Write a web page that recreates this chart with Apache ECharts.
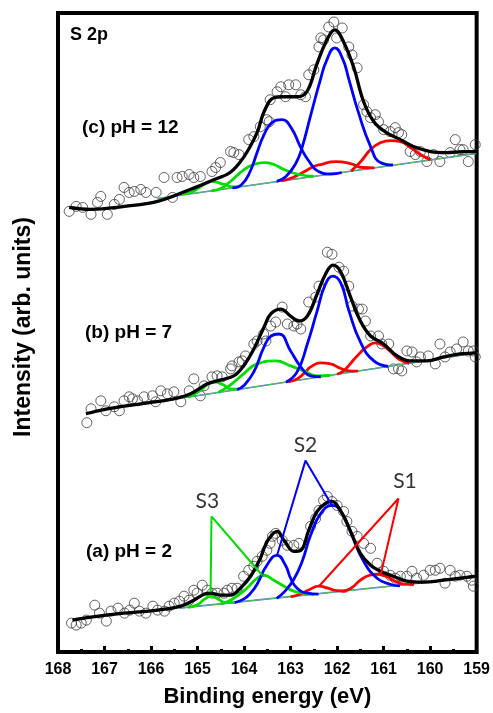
<!DOCTYPE html>
<html><head><meta charset="utf-8">
<script src="https://cdn.jsdelivr.net/npm/echarts@6/dist/echarts.min.js"></script>
<style>html,body{margin:0;padding:0;background:#fff}#chart{width:493px;height:713px}</style>
</head><body><div id="chart"></div>
<script>
// ---------- axis ----------
const xMin = 159, xMax = 168, xStep = 1;
const yMin = 0, yMax = 641;

// ---------- (c) pH = 12 ----------
const dataC = [[167.76,442],[167.61,447],[167.47,446],[167.29,439],[167.15,451],[167.08,457],[166.94,439],[166.79,449],[166.68,454],[166.58,466],[166.47,461],[166.36,462],[166.22,464],[166.11,461],[165.89,461],[165.72,476],[165.54,456],[165.44,476],[165.33,477],[165.18,479],[165.08,476],[164.94,477],[164.69,482],[164.61,486],[164.51,491],[164.29,502],[164.22,501],[164.11,499],[163.90,514],[163.79,517],[163.65,527],[163.51,534],[163.46,532],[163.44,554],[163.29,562],[163.21,567],[163.11,557],[163.04,569],[162.89,569],[162.78,559],[162.68,557],[162.61,579],[162.50,584],[162.39,607],[162.35,616],[162.29,614],[162.18,627],[162.07,632],[162.01,616],[161.89,626],[161.75,607],[161.68,599],[161.57,586],[161.43,549],[161.36,542],[161.28,536],[161.18,539],[161.11,532],[161.00,524],[160.86,522],[160.75,526],[160.68,521],[160.61,519],[160.43,502],[160.32,499],[160.21,502],[160.07,492],[159.93,499],[159.79,492],[159.57,501],[159.46,514],[159.36,504],[159.29,504],[159.18,492],[159.03,509]];
const fitC = [[167.76,446],[167.30,444],[166.57,447],[165.86,452],[165.16,464],[164.64,474],[164.30,481],[164.00,497],[163.72,521],[163.57,542],[163.36,556],[163.14,557],[162.86,557],[162.65,562],[162.44,589],[162.24,612],[162.05,624],[161.86,612],[161.64,586],[161.43,552],[161.21,532],[160.94,521],[160.64,514],[160.36,507],[159.99,502],[159.65,501],[159.29,502],[159.01,502]];
const bgC = [[165.86,455],[159.01,500]];
const s2aC = [[163.3,472],[163.1,477],[162.89,490],[162.76,505],[162.57,538],[162.36,574],[162.22,594],[162.05,606],[161.88,595],[161.75,575],[161.54,541],[161.28,507],[161.07,491],[160.8,488.5]];
const s2bC = [[164.25,465.6],[164.05,469],[163.87,482],[163.72,501],[163.57,519],[163.4,531],[163.19,534],[162.99,526],[162.78,506],[162.6,492],[162.4,482],[162.14,479.5],[161.9,481]];
const s3aC = [[164.7,462.7],[164.5,465],[164.32,471],[164.0,484],[163.79,489],[163.57,491],[163.36,489],[163.14,484],[162.82,479],[162.5,477.1]];
const s3bC = [[165.29,459.7],[165.1,462],[164.96,466],[164.71,472],[164.43,469],[164.25,466.5],[164.1,466.6]];
const s1aC = [[161.7,482.4],[161.49,492],[161.28,504],[161.06,511],[160.85,513],[160.64,512],[160.42,506],[160.21,499],[159.99,493.6]];
const s1bC = [[163.2,472.5],[162.95,476],[162.7,482],[162.5,487],[162.35,489],[162.03,492],[161.71,490],[161.45,486],[161.2,485.6]];

// ---------- (b) pH = 7 ----------
const dataB = [[167.38,230],[167.29,244],[167.08,252],[166.97,242],[166.79,246],[166.68,242],[166.58,252],[166.47,256],[166.40,254],[166.29,252],[166.15,256],[165.97,257],[165.90,251],[165.79,262],[165.65,259],[165.51,261],[165.36,251],[165.18,262],[165.08,274],[164.94,257],[164.86,267],[164.69,276],[164.58,277],[164.47,276],[164.29,284],[164.26,287],[164.11,291],[164.04,292],[163.97,297],[163.79,309],[163.72,312],[163.58,319],[163.53,312],[163.43,327],[163.32,331],[163.18,346],[163.07,329],[162.93,327],[162.86,329],[162.78,324],[162.61,351],[162.46,356],[162.39,367],[162.21,401],[162.11,399],[161.96,386],[161.86,382],[161.75,367],[161.68,347],[161.54,344],[161.46,344],[161.39,332],[161.28,317],[161.11,317],[161.04,309],[160.89,309],[160.79,284],[160.68,284],[160.61,282],[160.50,302],[160.39,301],[160.29,291],[160.21,296],[160.04,297],[159.89,289],[159.79,309],[159.68,296],[159.57,301],[159.43,304],[159.29,311],[159.18,302],[159.07,302],[159.03,296]];
const fitB = [[167.40,239],[166.94,244],[166.22,249],[165.51,254],[165.15,259],[164.79,269],[164.58,272],[164.22,277],[164.01,287],[163.79,304],[163.57,326],[163.43,339],[163.21,344],[163.00,337],[162.82,332],[162.64,337],[162.43,359],[162.25,379],[162.09,388],[161.93,382],[161.71,356],[161.50,332],[161.28,317],[161.00,309],[160.71,297],[160.43,292],[160.07,292],[159.71,296],[159.36,299],[159.00,300]];
const bgB = [[165.65,252.5],[159.01,300]];
const s2aB = [[163.1,270.7],[162.86,281],[162.64,309],[162.43,342],[162.25,369],[162.09,377],[161.92,370],[161.75,343],[161.5,311],[161.21,292],[160.9,286.5]];
const s2bB = [[164.15,263.2],[164.01,267],[163.79,281],[163.58,305],[163.42,317],[163.25,319],[163.0,302],[162.78,286],[162.57,277],[162.35,276.1]];
const s3aB = [[164.55,260.4],[164.29,268],[164.01,279],[163.72,289],[163.32,292],[163.0,287],[162.71,282],[162.43,277],[162.15,277.5]];
const s3bB = [[165.2,255.7],[164.95,262],[164.8,268],[164.65,271],[164.45,268],[164.3,264],[164.1,263.6]];
const s1aB = [[162.0,278.6],[161.86,282],[161.7,290],[161.57,297],[161.36,306],[161.18,310],[161.0,307],[160.82,300],[160.65,293],[160.45,289.6]];
const s1bB = [[163.05,271.1],[162.86,274],[162.7,280],[162.57,286],[162.36,290],[162.14,289],[161.95,285],[161.75,282],[161.55,281.7]];

// ---------- (a) pH = 2 ----------
const dataA = [[167.71,29],[167.61,27],[167.50,29],[167.39,32],[167.21,47],[167.11,39],[166.96,31],[166.86,41],[166.71,44],[166.57,39],[166.46,42],[166.36,49],[166.25,41],[166.11,39],[165.96,46],[165.86,42],[165.71,41],[165.61,46],[165.50,49],[165.39,51],[165.29,56],[165.18,52],[165.08,62],[165.01,59],[164.90,67],[164.79,62],[164.69,59],[164.58,59],[164.43,59],[164.36,62],[164.26,64],[164.15,64],[164.01,76],[163.90,82],[163.79,86],[163.72,91],[163.61,96],[163.51,102],[163.44,109],[163.39,116],[163.32,119],[163.18,112],[163.07,107],[162.93,107],[162.82,109],[162.57,126],[162.46,134],[162.39,142],[162.29,152],[162.21,156],[162.11,151],[162.00,147],[161.86,141],[161.79,131],[161.68,121],[161.57,116],[161.43,109],[161.28,104],[161.14,89],[161.00,81],[160.86,77],[160.75,74],[160.64,76],[160.50,76],[160.39,81],[160.29,74],[160.14,77],[160.00,82],[159.89,82],[159.79,84],[159.68,69],[159.57,82],[159.46,76],[159.36,77],[159.21,76],[159.11,72],[159.07,66]];
const fitA = [[167.69,32],[167.29,35],[166.58,39],[165.86,42],[165.36,46],[165.08,52],[164.86,58],[164.72,59],[164.51,57],[164.29,57],[164.08,64],[163.86,76],[163.65,94],[163.57,104],[163.46,114],[163.29,121],[163.14,112],[162.93,101],[162.78,102],[162.61,122],[162.43,141],[162.25,149],[162.11,151],[161.93,142],[161.71,121],[161.50,99],[161.28,87],[161.07,81],[160.79,76],[160.50,71],[160.14,70],[159.71,72],[159.00,76]];
const bgA = [[165.39,44],[159.01,75]];
const s2aA = [[163.3,53.8],[163.14,60],[162.93,73],[162.75,91],[162.57,117],[162.35,139],[162.11,147],[161.9,140],[161.68,117],[161.43,91],[161.14,74],[160.86,68],[160.65,66.3]];
const s2bA = [[164.2,49.6],[164.01,53],[163.86,59],[163.72,68],[163.51,87],[163.29,97],[163.11,87],[163.0,74],[162.86,64],[162.64,59],[162.4,58]];
const s3aA = [[164.5,48.2],[164.29,52],[164.01,61],[163.72,74],[163.57,77],[163.36,72],[163.14,66],[162.93,61],[162.71,59],[162.5,57.6]];
const s3bA = [[165.2,44.9],[165.0,47.5],[164.85,53],[164.71,56],[164.55,53],[164.4,49.5],[164.2,49.6]];
const s1aA = [[161.9,60.8],[161.7,64],[161.5,72],[161.3,77],[161.14,78],[160.95,76],[160.75,71],[160.55,68],[160.35,67.7]];
const s1bA = [[163.0,55.2],[162.8,58],[162.6,62.5],[162.39,66],[162.2,64],[162.0,61.5],[161.8,61]];

// ---------- annotations ----------
const s1Pointer = [[162.39,66],[160.68,154],[161.06,78]];
const s2Pointer = [[163.29,97],[162.68,192],[162.11,147]];
const s3Pointer = [[164.72,60],[164.70,136],[163.61,77]];
const peakLabels = [{name:'S1', value:[160.54,171]},{name:'S2', value:[162.68,207]},{name:'S3', value:[164.79,151]}];

const panelLabels = ['(c) pH = 12', '(b) pH = 7', '(a) pH = 2'];
const coreLevel = 'S 2p';

// ---------- build ----------
const BLUE = '#0000ff', RED = '#ff0000', GREEN = '#00dd00';
function line(data, color, width, z, smooth) {
  return {type:'line', data: data, symbol:'none', smooth: smooth, lineStyle:{color:color, width:width}, itemStyle:{color:color}, z:z, silent:true, animation:false};
}
function scatter(data) {
  return {type:'scatter', data: data, symbol:'circle', symbolSize:10, itemStyle:{color:'rgba(255,255,255,0)', borderColor:'#3c3c3c', borderWidth:1}, z:2, silent:true, animation:false};
}
const spectra = [
  {d:dataC, fit:fitC, bg:bgC, s1:[s1aC,s1bC], s2:[s2aC,s2bC], s3:[s3aC,s3bC]},
  {d:dataB, fit:fitB, bg:bgB, s1:[s1aB,s1bB], s2:[s2aB,s2bB], s3:[s3aB,s3bB]},
  {d:dataA, fit:fitA, bg:bgA, s1:[s1aA,s1bA], s2:[s2aA,s2bA], s3:[s3aA,s3bA]}
];
const series = [];
spectra.forEach(function(sp){
  series.push(scatter(sp.d));
  series.push(line(sp.bg, '#6a6aff', 1.6, 3, false));
  series.push(line(sp.bg, '#45c845', 1, 3, false));
  sp.s1.forEach(function(c){ series.push(line(c, RED, 2.8, 4, 0.5)); });
  sp.s3.forEach(function(c){ series.push(line(c, GREEN, 2.8, 4, 0.5)); });
  sp.s2.forEach(function(c){ series.push(line(c, BLUE, 2.8, 4, 0.5)); });
  series.push(line(sp.fit, '#000', 3.3, 5, 0.4));
});
series.push(line(s1Pointer, RED, 2, 6, false));
series.push(line(s2Pointer, BLUE, 2, 6, false));
series.push(line(s3Pointer, GREEN, 2, 6, false));
series.push({type:'scatter', data: peakLabels, symbolSize:1, itemStyle:{color:'rgba(0,0,0,0)'}, z:7, silent:true, animation:false,
  label:{show:true, position:'inside', formatter:'{b}', color:'#000', fontSize:21, fontFamily:'Lato', fontWeight:'normal'}});

const boldFont = 'bold 19px "Liberation Sans", Arial, sans-serif';
const chart = echarts.init(document.getElementById('chart'), null, {renderer:'canvas'});
chart.setOption({
  animation:false,
  backgroundColor:'#fff',
  grid:{left:58, right:14, top:13, bottom:59, show:true, borderColor:'#000', borderWidth:4, backgroundColor:'transparent'},
  xAxis:{type:'value', min:xMin, max:xMax, interval:xStep, inverse:true,
    axisLine:{show:false},
    axisTick:{show:true, inside:true, length:6, lineStyle:{color:'#000', width:3}},
    minorTick:{show:true, splitNumber:2, length:3, lineStyle:{color:'#000', width:3}},
    splitLine:{show:false},
    axisLabel:{color:'#000', fontSize:16, fontWeight:'bold', fontFamily:'Liberation Sans', margin:10},
    name:'Binding energy (eV)', nameLocation:'middle', nameGap:34,
    nameTextStyle:{color:'#000', fontSize:22, fontWeight:'bold', fontFamily:'Liberation Sans'}},
  yAxis:{type:'value', min:yMin, max:yMax, axisLine:{show:false}, axisTick:{show:false}, axisLabel:{show:false}, splitLine:{show:false}},
  graphic:[
    {type:'text', x:24, y:327, rotation:Math.PI/2, style:{text:'Intensity (arb. units)', align:'center', verticalAlign:'middle', font:'bold 23px "Liberation Sans", Arial, sans-serif', fill:'#000'}},
    {type:'text', x:70, y:35, style:{text:coreLevel, align:'left', verticalAlign:'middle', font:'bold 18px "Liberation Sans", Arial, sans-serif', fill:'#000'}},
    {type:'text', x:82, y:128, style:{text:panelLabels[0], align:'left', verticalAlign:'middle', font:boldFont, fill:'#000'}},
    {type:'text', x:85, y:333, style:{text:panelLabels[1], align:'left', verticalAlign:'middle', font:boldFont, fill:'#000'}},
    {type:'text', x:86, y:552, style:{text:panelLabels[2], align:'left', verticalAlign:'middle', font:boldFont, fill:'#000'}}
  ],
  series: series
});
</script></body></html>
